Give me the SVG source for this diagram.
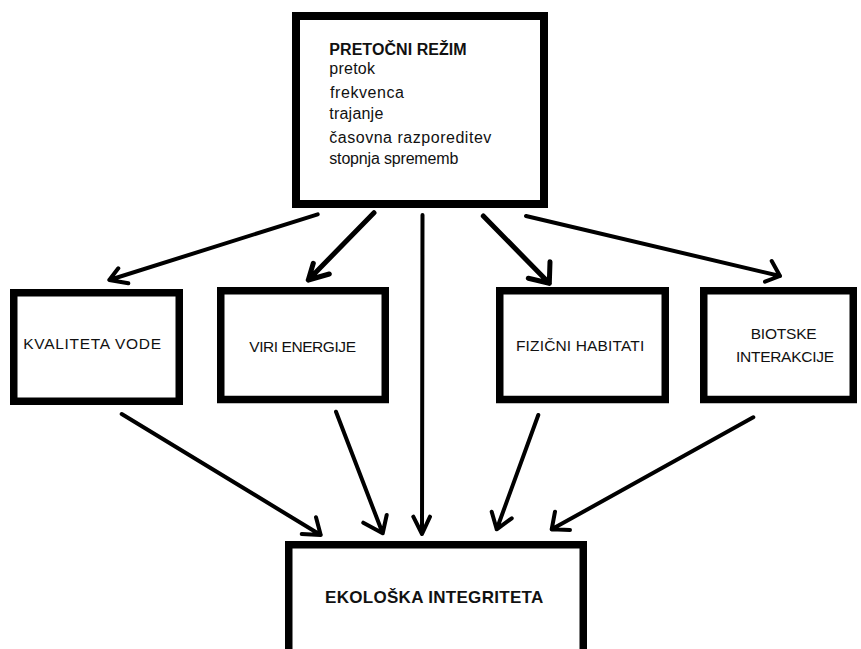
<svg xmlns="http://www.w3.org/2000/svg" width="861" height="649" viewBox="0 0 861 649">
<style>
.box{fill:#fff;stroke:#000;stroke-width:7.5}
.t{font-family:"Liberation Sans",Arial,sans-serif;fill:#111}
.top{font-size:16px}
.lbl{font-size:15.5px}
.b{font-weight:bold}
.ar{fill:none;stroke:#000;stroke-width:4;stroke-linecap:round;stroke-linejoin:round}
.thick{stroke-width:5}
</style>
<rect width="861" height="649" fill="#fff"/>
<g id="connectors">
<path class="ar" d="M317.7,214.3 L109.3,280 M118.3,268.3 L109.3,280 L128.3,283.3"/>
<path class="ar thick" d="M374,212.7 L308.3,280 M313.3,263.3 L308.3,280 L329.3,274"/>
<path class="ar" d="M422.5,215 L422,534 M413.3,516.7 L422,534 L430,516.7"/>
<path class="ar thick" d="M483.3,216 L549.3,283.3 M550,261.7 L549.3,283.3 L528.3,278.3"/>
<path class="ar" d="M526,216 L780,276 M771.7,261 L780,276 L765,281.7"/>
<path class="ar" d="M121.7,414 L320.7,535 M316,517.3 L320.7,535 L301.7,534"/>
<path class="ar" d="M336,411.7 L382.7,533.3 M386.7,515 L382.7,533.3 L363.3,522.7"/>
<path class="ar" d="M538.3,415 L496.7,529.3 M491.7,511.7 L496.7,529.3 L511.7,518.3"/>
<path class="ar" d="M753.3,417.3 L551.7,529.3 M555,511.7 L551.7,529.3 L570,530"/>
</g>
<g id="pretocni-rezim">
<rect class="box" x="296" y="16" width="248" height="188" style="stroke-width:8"/>
<text class="t top b" x="329.3" y="55" textLength="137.4">PRETOČNI REŽIM</text>
<text class="t top" x="329.3" y="74.3" textLength="45.7">pretok</text>
<text class="t top" x="330" y="98" textLength="74">frekvenca</text>
<text class="t top" x="329.3" y="119.3" textLength="54">trajanje</text>
<text class="t top" x="329.3" y="142.7" textLength="162">časovna razporeditev</text>
<text class="t top" x="329.3" y="164.3" textLength="129">stopnja sprememb</text>
</g>
<g id="kvaliteta-vode">
<rect class="box" x="13.75" y="292.75" width="165.5" height="108.5"/>
<text class="t lbl" x="23.3" y="349.3" textLength="137.7">KVALITETA VODE</text>
</g>
<g id="viri-energije">
<rect class="box" x="220.75" y="290.75" width="164.5" height="108.75"/>
<text class="t lbl" x="249.3" y="351.7" textLength="106.7">VIRI ENERGIJE</text>
</g>
<g id="fizicni-habitati">
<rect class="box" x="499.75" y="290.75" width="165.5" height="108.75"/>
<text class="t lbl" x="516" y="350.7" textLength="128.3">FIZIČNI HABITATI</text>
</g>
<g id="biotske-interakcije">
<rect class="box" x="703.75" y="290.75" width="149.5" height="108.75"/>
<text class="t lbl" x="750.7" y="339.3" textLength="66">BIOTSKE</text>
<text class="t lbl" x="736" y="361.7" textLength="98">INTERAKCIJE</text>
</g>
<g id="ekoloska-integriteta">
<rect class="box" x="288.75" y="544.75" width="294.5" height="200"/>
<text class="t b" style="font-size:17px" x="325" y="603.3" textLength="218.3">EKOLOŠKA INTEGRITETA</text>
</g>
</svg>
